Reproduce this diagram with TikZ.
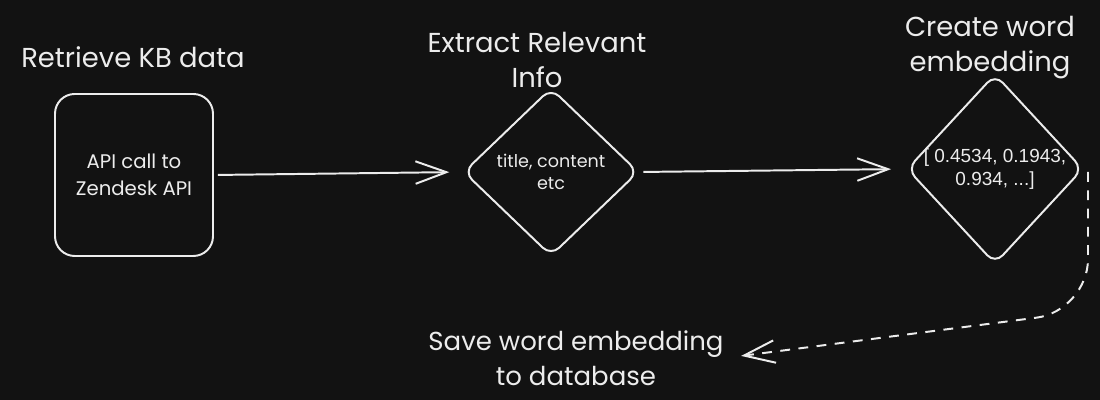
\documentclass[tikz,border=0pt]{standalone}
\usepackage{fontspec}
\setmainfont{Poppins}
\newfontfamily\numfont{Liberation Sans}
\usetikzlibrary{arrows.meta,positioning,shapes.geometric}
\definecolor{kbbg}{HTML}{121212}
\definecolor{kbink}{HTML}{ECECEC}
\tikzset{
  ttl/.style={align=center, text=kbink, inner sep=1pt, font=\fontsize{19.5}{24.8}\selectfont},
  stepbox/.style={draw=kbink, line width=1.4pt, rounded corners=14pt, minimum width=3.95cm, minimum height=4.05cm, align=center, text=kbink, font=\fontsize{14}{19}\selectfont},
  dia/.style={diamond, draw=kbink, line width=1.4pt, rounded corners=8pt, align=center, inner sep=0pt, text=kbink},
  arr/.style={-{Straight Barb[length=22pt,width=16pt,line width=1.4pt]}, line width=1.4pt, draw=kbink},
  darr/.style={arr, dash pattern=on 7pt off 6pt, rounded corners=1.3cm},
}

\begin{document}
\begin{tikzpicture}
    \fill[kbbg] (0,0) rectangle (27.5,10);
    \useasboundingbox (0,0) rectangle (27.5,10);
    % titles
    \node[ttl] (t1) at (3.325,8.575) {Retrieve KB data};
    \node[ttl] (t2) at (13.425,8.5) {Extract Relevant\\Info};
    \node[ttl] (t3) at (24.75,8.8) {Create word\\embedding};
    \node[ttl, font=\fontsize{18.5}{24.8}\selectfont] (save) at (14.4,1.05) {Save word embedding\\to database};
    % steps
    \node[stepbox] (api) at (3.35,5.625) {API call to\\Zendesk API};
    \node[dia, minimum width=4.375cm, minimum height=4.2cm, inner sep=-6pt, font=\fontsize{12.5}{16}\selectfont] (info) at (13.775,5.7) {title, content\\etc};
    \node[dia, minimum width=4.4cm, minimum height=4.75cm, inner sep=-16pt, font=\numfont\fontsize{13.5}{16.3}\selectfont] (emb) at (24.875,5.775) {[ 0.4534, 0.1943,\\0.934, ...]};
    \coordinate (dstart) at (27.2,5.7);
    \coordinate (dturn) at (27.2,2.225);
    \draw[arr, shorten <=0.1cm, shorten >=0.33cm] (api.east) -- (info.west);
    \draw[arr, shorten <=0.1cm, shorten >=0.375cm] (info.east) -- (emb.west);
    \draw[darr, shorten >=0.4cm] (dstart) -- (dturn) -- (save.east);
\end{tikzpicture}
\end{document}
